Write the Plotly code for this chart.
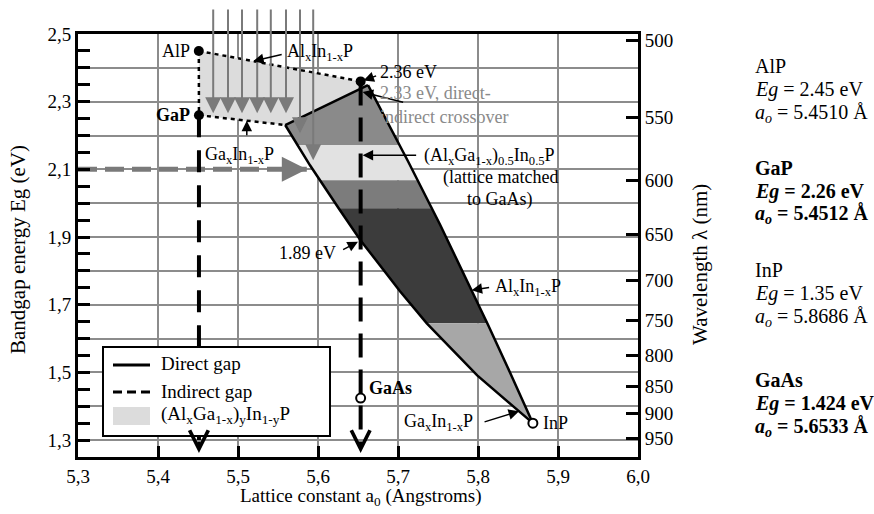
import numpy as np
import plotly.graph_objects as go

# ---------------------------------------------------------------- data
# binary end points: (lattice constant in Å, bandgap in eV)
alp_a, alp_eg = 5.4510, 2.45
gap_a, gap_eg = 5.4512, 2.26
inp_a, inp_eg = 5.8686, 1.35
gaas_a, gaas_eg = 5.6533, 1.424

# indirect-gap boundaries
alinp_ind_a = [5.4510, 5.6533]
alinp_ind_eg = [2.45, 2.36]
gainp_ind_a = [5.4512, 5.559]
gainp_ind_eg = [2.26, 2.231]
algap_ind_a = [5.4510, 5.4512]
algap_ind_eg = [2.45, 2.26]

# direct-gap boundaries
crossover_a = [5.559, 5.6625]
crossover_eg = [2.231, 2.349]
alinp_dir_a = [5.6625, 5.7125, 5.7525, 5.7963, 5.8125, 5.840, 5.8686]
alinp_dir_eg = [2.349, 2.124, 1.937, 1.722, 1.641, 1.500, 1.35]
gainp_dir_a = [5.559, 5.590, 5.6275, 5.6533, 5.7025, 5.736, 5.799, 5.8686]
gainp_dir_eg = [2.231, 2.112, 1.979, 1.89, 1.740, 1.645, 1.491, 1.35]

# emission bands across the direct-gap region
band_edges = [2.40, 2.172, 2.068, 1.985, 1.645, 1.30]
band_colors = ["#8a8a8a", "#e2e2e2", "#7c7c7c", "#3c3c3c", "#a7a7a7"]

# marked energies on the GaAs lattice-matched line
eg_236 = 2.36
eg_233 = 2.33
eg_189 = 1.89

# incident arrows from the top
incident_a = [5.469, 5.4875, 5.505, 5.524, 5.541, 5.560, 5.5775, 5.594]
incident_end_eg = [2.266, 2.266, 2.266, 2.266, 2.266, 2.266, 2.207, 2.127]
incident_top_eg = 2.577

# horizontal 2.1 eV arrow
h_arrow_a = [5.30, 5.586]
h_arrow_eg = 2.10

# vertical lattice lines end here (arrow tips below)
line_bottom_eg = 1.30
arrow_tip_eg = 1.262

# axes
x_range = [5.3, 6.0]
y_range = [1.25, 2.5]
y_major = [1.3, 1.4, 1.5, 1.6, 1.7, 1.8, 1.9, 2.0, 2.1, 2.2, 2.3, 2.4, 2.5]
y_labelled = [1.3, 1.5, 1.7, 1.9, 2.1, 2.3, 2.5]
wavelengths = [500, 550, 600, 650, 700, 750, 800, 850, 900, 950]

FONT = "Liberation Serif, Times New Roman, serif"
GRID = "#8c8c8c"
ARROW_GRAY = "#7a7a7a"


def fx(p):
    return (p - 78) / 560


def fy(p):
    return (457 - p) / 423


def clip_band(xs, ys, lo, hi):
    pts = list(zip(xs, ys))

    def clip(pts, keep, level):
        out = []
        for i in range(len(pts)):
            cur, prev = pts[i], pts[i - 1]

            def cross(p, q):
                t = (level - p[1]) / (q[1] - p[1])
                return (p[0] + t * (q[0] - p[0]), level)

            if keep(cur):
                if not keep(prev):
                    out.append(cross(prev, cur))
                out.append(cur)
            elif keep(prev):
                out.append(cross(prev, cur))
        return out

    pts = clip(pts, lambda p: p[1] >= lo, lo)
    pts = clip(pts, lambda p: p[1] <= hi, hi)
    return [p[0] for p in pts], [p[1] for p in pts]


fig = go.Figure()

# indirect (Al,Ga)InP region
ind_x = alinp_ind_a + [crossover_a[1], crossover_a[0]] + gainp_ind_a[::-1]
ind_y = alinp_ind_eg + [crossover_eg[1], crossover_eg[0]] + gainp_ind_eg[::-1]
fig.add_trace(go.Scatter(x=ind_x, y=ind_y, fill="toself", fillcolor="#dcdcdc",
                         mode="lines", line=dict(color="rgba(0,0,0,0)", width=0),
                         hoverinfo="skip"))

# direct-gap region split into emission bands
poly_x = crossover_a + alinp_dir_a[1:] + gainp_dir_a[-2:0:-1]
poly_y = crossover_eg + alinp_dir_eg[1:] + gainp_dir_eg[-2:0:-1]
for hi, lo, col in zip(band_edges[:-1], band_edges[1:], band_colors):
    bx, by = clip_band(poly_x, poly_y, lo, hi)
    fig.add_trace(go.Scatter(x=bx, y=by, fill="toself", fillcolor=col, mode="lines",
                             line=dict(color="rgba(0,0,0,0)", width=0),
                             hoverinfo="skip"))

# direct-gap boundaries
for xs, ys in [(crossover_a, crossover_eg), (alinp_dir_a, alinp_dir_eg),
               (gainp_dir_a, gainp_dir_eg)]:
    fig.add_trace(go.Scatter(x=xs, y=ys, mode="lines",
                             line=dict(color="black", width=2.5)))

# indirect-gap boundaries
for xs, ys in [(alinp_ind_a, alinp_ind_eg), (gainp_ind_a, gainp_ind_eg),
               (algap_ind_a, algap_ind_eg)]:
    fig.add_trace(go.Scatter(x=xs, y=ys, mode="lines",
                             line=dict(color="black", width=2.5, dash="4px,4px")))

# horizontal 2.1 eV guide
fig.add_trace(go.Scatter(x=h_arrow_a, y=[h_arrow_eg] * 2, mode="lines",
                         line=dict(color=ARROW_GRAY, width=5, dash="19px,8px")))

# vertical lattice-constant lines (GaP and GaAs)
fig.add_trace(go.Scatter(x=[gap_a, gap_a], y=[gap_eg, line_bottom_eg], mode="lines",
                         line=dict(color="black", width=4, dash="22px,13px")))
fig.add_trace(go.Scatter(x=[gaas_a, gaas_a], y=[eg_236, line_bottom_eg], mode="lines",
                         line=dict(color="black", width=4, dash="24px,12px")))

# end points
fig.add_trace(go.Scatter(x=[alp_a, gap_a, gaas_a], y=[alp_eg, gap_eg, eg_236],
                         mode="markers",
                         marker=dict(color="black", size=10)))
fig.add_trace(go.Scatter(x=[gaas_a, inp_a], y=[gaas_eg, inp_eg], mode="markers",
                         marker=dict(color="white", size=9,
                                     line=dict(color="black", width=2))))

# invisible trace for the wavelength axis
fig.add_trace(go.Scatter(x=[x_range[0]], y=[y_range[0]], yaxis="y2", mode="markers",
                         marker=dict(opacity=0), hoverinfo="skip"))

ann = []

# incident arrows
for a, e in zip(incident_a, incident_end_eg):
    ann.append(dict(x=a, y=e, ax=a, ay=incident_top_eg, xref="x", yref="y",
                    axref="x", ayref="y", text="", showarrow=True,
                    arrowhead=2, arrowwidth=2, arrowsize=1.6,
                    arrowcolor=ARROW_GRAY))

# 2.1 eV arrow head
ann.append(dict(x=h_arrow_a[1], y=h_arrow_eg, ax=-22, ay=0, text="", showarrow=True,
                arrowhead=2, arrowwidth=5, arrowsize=1.0, arrowcolor=ARROW_GRAY))

# chevrons at the bottom of the lattice lines
for a in [gap_a, gaas_a]:
    ann.append(dict(x=a, y=arrow_tip_eg, ax=a, ay=line_bottom_eg, xref="x", yref="y",
                    axref="x", ayref="y", text="", showarrow=True, arrowhead=5,
                    arrowwidth=3.5, arrowsize=1.05, arrowcolor="black"))


def pointer(x, y, ax, ay, standoff=0):
    ann.append(dict(x=x, y=y, ax=ax, ay=ay, text="", showarrow=True, arrowhead=2,
                    arrowwidth=1.5, arrowsize=1.4, arrowcolor="black",
                    standoff=standoff))


def label(x, y, text, xanchor="left", size=18, color="black", **kw):
    ann.append(dict(x=x, y=y, text=text, showarrow=False, xanchor=xanchor,
                    yanchor="middle", font=dict(family=FONT, size=size, color=color),
                    **kw))


# pointers to boundaries
a_top = np.interp(5.519, alinp_ind_a, alinp_ind_eg)
pointer(5.519, a_top, 30, -7)
g_top = np.interp(5.511, gainp_ind_a, gainp_ind_eg)
pointer(5.511, g_top, 0, 16)
pointer(gaas_a, eg_236, 17, -6, standoff=3)
pointer(gaas_a, eg_233, 44, 11, standoff=2)
pointer(gaas_a, 2.142, 57, 0, standoff=2)
pointer(gaas_a, eg_189, -19, 10, standoff=3)
al_low = np.interp(1.743, alinp_dir_eg[::-1], alinp_dir_a[::-1])
pointer(al_low, 1.743, 19, -3)
ga_low = np.interp(1.385, gainp_dir_eg[::-1], gainp_dir_a[::-1])
pointer(ga_low, 1.385, -36, 11)

# labels on the plot
label(alp_a, alp_eg, "AlP", xanchor="right", xshift=-7)
label(gap_a, gap_eg, "<b>GaP</b>", xanchor="right", xshift=-7)
label(5.559, 2.444, "Al<sub>x</sub>In<sub>1-x</sub>P")
label(5.456, 2.142, "Ga<sub>x</sub>In<sub>1-x</sub>P")
label(5.675, 2.388, "2.36 eV")
label(5.675, 2.325, "2.33 eV, direct-", color="#8a8a8a")
label(5.675, 2.254, "indirect crossover", color="#8a8a8a")
label(5.730, 2.139, "(Al<sub>x</sub>Ga<sub>1-x</sub>)<sub>0.5</sub>In<sub>0.5</sub>P")
label(5.8275, 2.077, "(lattice matched", xanchor="center")
label(5.8275, 2.012, "to GaAs)", xanchor="center")
label(5.625, 1.852, "1.89 eV", xanchor="right")
label(5.819, 1.751, "Al<sub>x</sub>In<sub>1-x</sub>P")
label(5.796, 1.352, "Ga<sub>x</sub>In<sub>1-x</sub>P", xanchor="right")
label(inp_a, inp_eg, "InP", xshift=8)
label(gaas_a, gaas_eg, "<b>GaAs</b>", xshift=6, yshift=10)

# compound data on the right
blocks = [
    (["AlP", "<i>Eg</i> = 2.45 eV", "<i>a<sub>o</sub></i> = 5.4510 Å"], False, 66),
    (["GaP", "<i>Eg</i> = 2.26 eV", "<i>a<sub>o</sub></i> = 5.4512 Å"], True, 168),
    (["InP", "<i>Eg</i> = 1.35 eV", "<i>a<sub>o</sub></i> = 5.8686 Å"], False, 270),
    (["GaAs", "<i>Eg</i> = 1.424 eV", "<i>a<sub>o</sub></i> = 5.6533 Å"], True, 380),
]
for lines, bold, top in blocks:
    for i, t in enumerate(lines):
        ann.append(dict(xref="paper", yref="paper", x=fx(753), y=fy(top + 23.5 * i),
                        text=f"<b>{t}</b>" if bold else t, showarrow=False,
                        xanchor="left", yanchor="middle",
                        font=dict(family=FONT, size=20, color="black")))

# axis titles
ann.append(dict(xref="paper", yref="paper", x=fx(18), y=fy(250), textangle=-90,
                xanchor="center", yanchor="middle",
                text="Bandgap energy Eg (eV)", showarrow=False,
                font=dict(family=FONT, size=21)))
ann.append(dict(xref="paper", yref="paper", x=fx(700), y=fy(265), textangle=-90,
                xanchor="center", yanchor="middle",
                text="Wavelength λ (nm)", showarrow=False,
                font=dict(family=FONT, size=21)))
ann.append(dict(xref="paper", yref="paper", x=fx(360), y=fy(497),
                xanchor="center", yanchor="middle",
                text="Lattice constant a<sub>0</sub> (Angstroms)", showarrow=False,
                font=dict(family=FONT, size=19)))

# legend
shapes = [
    dict(type="rect", xref="paper", yref="paper", x0=fx(103), x1=fx(330),
         y0=fy(436), y1=fy(347), fillcolor="white", line=dict(color="black", width=2),
         layer="above"),
    dict(type="line", xref="paper", yref="paper", x0=fx(113), x1=fx(150),
         y0=fy(365), y1=fy(365), line=dict(color="black", width=3), layer="above"),
    dict(type="line", xref="paper", yref="paper", x0=fx(113), x1=fx(152),
         y0=fy(392), y1=fy(392), line=dict(color="black", width=3, dash="9px,5px"),
         layer="above"),
    dict(type="rect", xref="paper", yref="paper", x0=fx(113), x1=fx(150),
         y0=fy(425), y1=fy(407), fillcolor="#dcdcdc", line=dict(width=0),
         layer="above"),
]
for t, yy in [("Direct gap", 363), ("Indirect gap", 391),
              ("(Al<sub>x</sub>Ga<sub>1-x</sub>)<sub>y</sub>In<sub>1-y</sub>P", 415)]:
    ann.append(dict(xref="paper", yref="paper", x=fx(159), y=fy(yy), text=t,
                    showarrow=False, xanchor="left", yanchor="middle",
                    font=dict(family=FONT, size=19)))

y_text = [f"{v:.1f}".replace(".", ",") if any(abs(v - l) < 1e-9 for l in y_labelled)
          else "" for v in y_major]

fig.update_layout(
    width=874, height=514,
    margin=dict(l=78, r=236, t=34, b=57),
    plot_bgcolor="white", paper_bgcolor="white",
    showlegend=False,
    separators=",.",
    font=dict(family=FONT, size=19, color="black"),
    annotations=ann,
    shapes=shapes,
    xaxis=dict(range=x_range, tick0=5.3, dtick=0.1, tickformat=".1f",
               ticks="inside", ticklen=11, tickwidth=3, tickcolor="black",
               showline=True, linewidth=3, linecolor="black", mirror=True,
               showgrid=True, gridcolor=GRID, gridwidth=2, zeroline=False,
               tickfont=dict(family=FONT, size=19)),
    yaxis=dict(range=y_range, tickmode="array", tickvals=y_major, ticktext=y_text,
               ticks="inside", ticklen=12, tickwidth=3, tickcolor="black",
               showline=True, linewidth=3, linecolor="black",
               showgrid=True, gridcolor=GRID, gridwidth=2, zeroline=False,
               minor=dict(dtick=0.05, tick0=1.25, ticks="inside", ticklen=12,
                          tickwidth=3, tickcolor="black", showgrid=False),
               tickfont=dict(family=FONT, size=19)),
    yaxis2=dict(range=y_range, overlaying="y", side="right", tickmode="array",
                tickvals=[1240.0 / w for w in wavelengths],
                ticktext=[str(w) for w in wavelengths],
                ticks="inside", ticklen=12, tickwidth=3, tickcolor="black",
                showline=True, linewidth=3, linecolor="black", showgrid=False,
                zeroline=False, tickfont=dict(family=FONT, size=19)),
)

fig.write_html("out.html")
